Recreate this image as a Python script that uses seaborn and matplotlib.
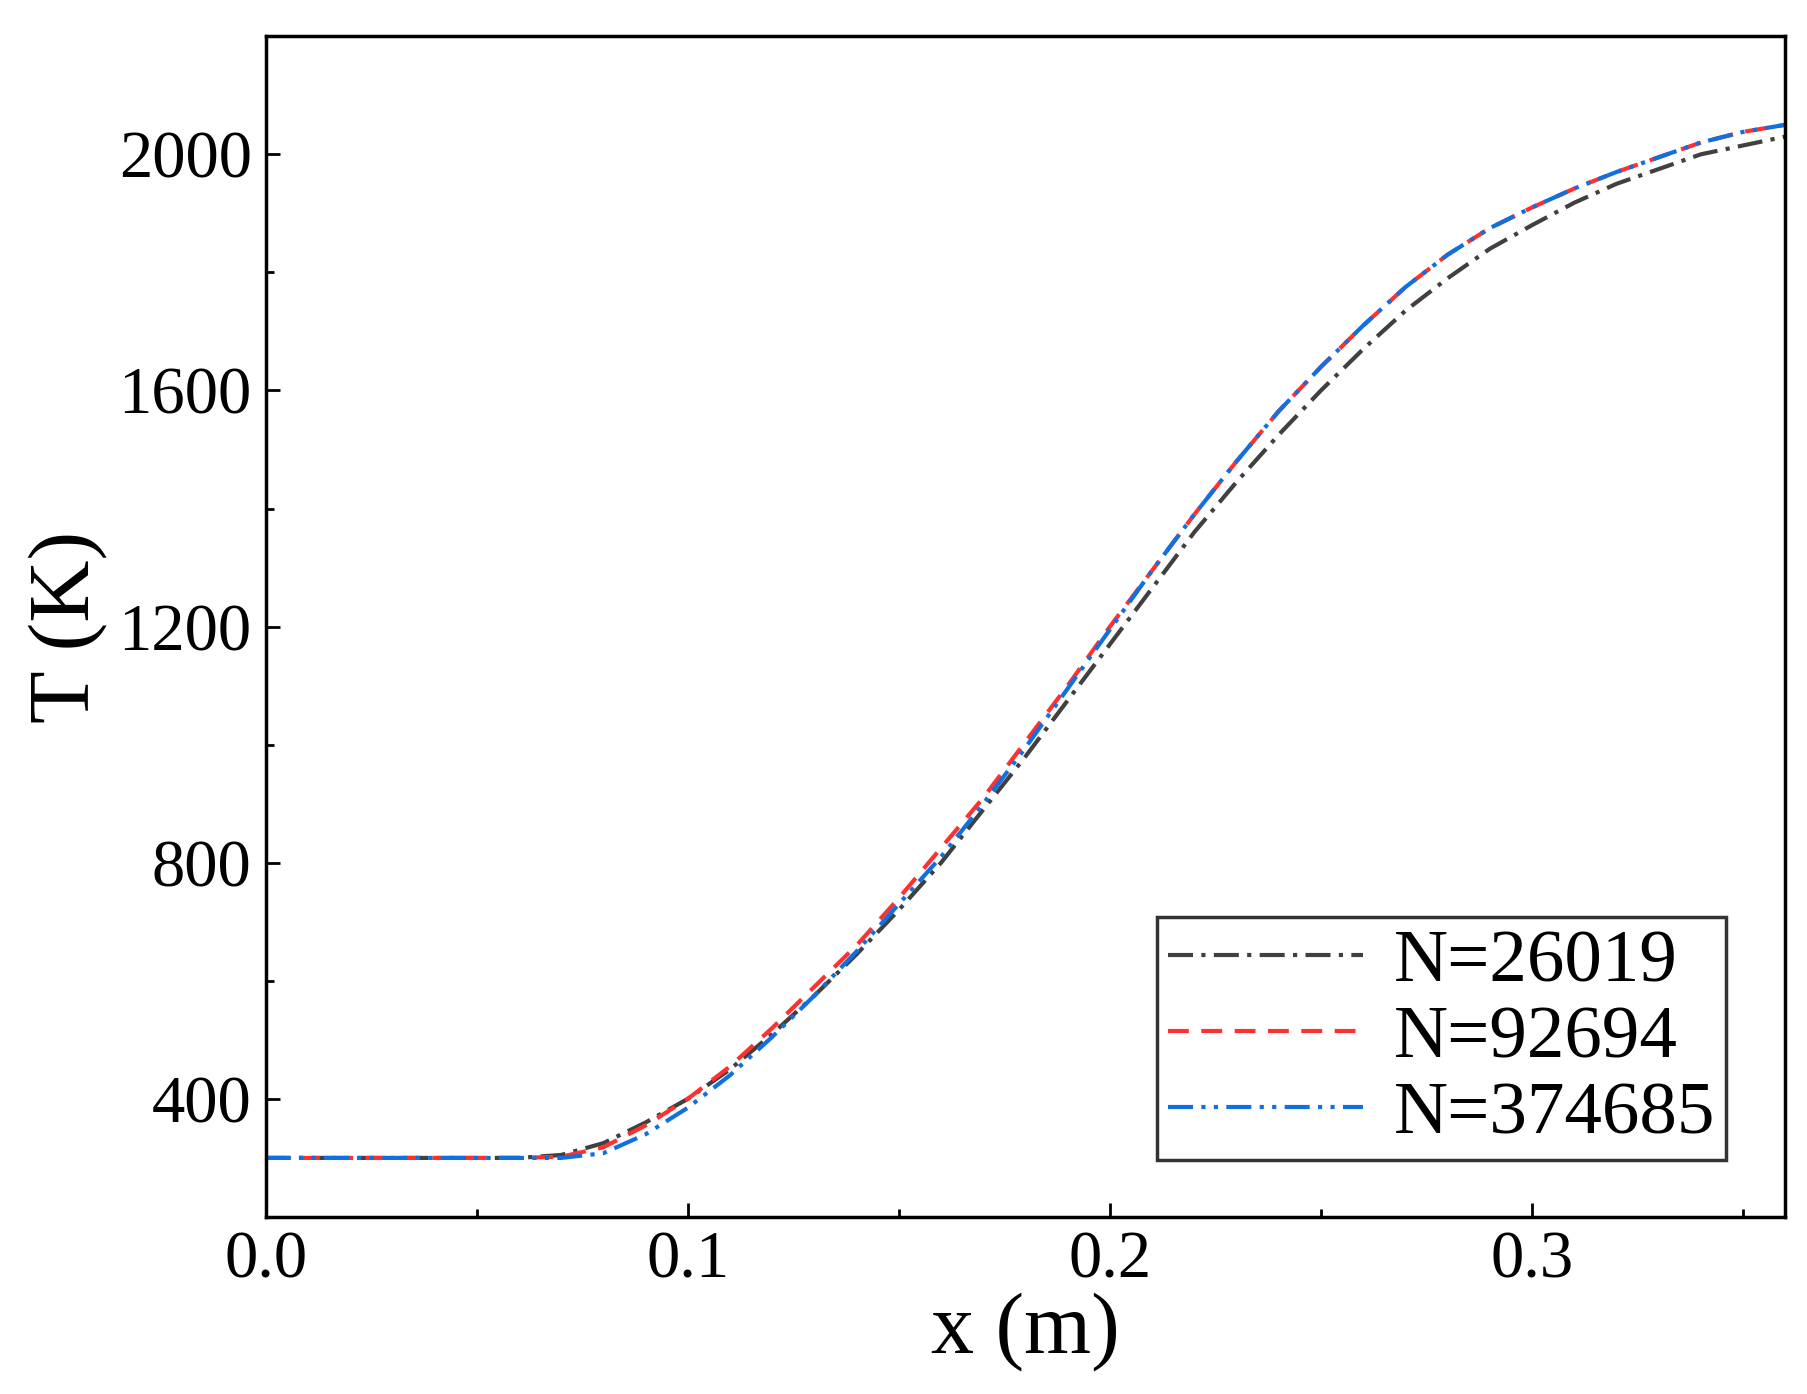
import matplotlib
matplotlib.use("Agg")
import matplotlib.pyplot as plt
import seaborn as sns
import pandas as pd
from matplotlib.ticker import MultipleLocator

x_black = [0.0, 0.03, 0.06, 0.07, 0.08, 0.09, 0.1, 0.11, 0.12, 0.13, 0.14, 0.15, 0.16, 0.17, 0.18, 0.19, 0.2, 0.21, 0.22, 0.23, 0.24, 0.25, 0.26, 0.27, 0.28, 0.29, 0.3, 0.31, 0.32, 0.33, 0.34, 0.35, 0.36]
t_black = [300, 300, 300, 305, 325, 360, 400, 450, 510, 575, 645, 720, 800, 890, 980, 1075, 1170, 1265, 1360, 1445, 1525, 1600, 1670, 1735, 1790, 1840, 1880, 1918, 1950, 1975, 2000, 2015, 2030]
x_red = [0.0, 0.03, 0.06, 0.07, 0.08, 0.09, 0.1, 0.11, 0.12, 0.13, 0.14, 0.15, 0.16, 0.17, 0.18, 0.19, 0.2, 0.21, 0.22, 0.23, 0.24, 0.25, 0.26, 0.27, 0.28, 0.29, 0.3, 0.31, 0.32, 0.33, 0.34, 0.35, 0.36]
t_red = [300, 300, 300, 302, 318, 355, 400, 455, 520, 590, 660, 740, 825, 910, 1005, 1100, 1200, 1295, 1390, 1480, 1565, 1640, 1710, 1775, 1830, 1875, 1910, 1942, 1970, 1995, 2020, 2038, 2050]
x_blue = x_red
t_blue = [300, 300, 300, 300, 308, 340, 385, 440, 505, 575, 650, 730, 810, 900, 995, 1095, 1195, 1295, 1390, 1480, 1565, 1640, 1710, 1775, 1830, 1875, 1910, 1942, 1970, 1995, 2020, 2038, 2050]
labels = ["N=26019", "N=92694", "N=374685"]

df = pd.concat([
    pd.DataFrame({"x": x_black, "T": t_black, "case": labels[0]}),
    pd.DataFrame({"x": x_red, "T": t_red, "case": labels[1]}),
    pd.DataFrame({"x": x_blue, "T": t_blue, "case": labels[2]}),
])

plt.rcParams["font.family"] = "Liberation Serif"
fig = plt.figure(figsize=(18.07, 13.94), dpi=100)
ax = fig.add_axes([0.147, 0.127, 0.841, 0.847])
colors = ["#404040", "#ff3030", "#1070e0"]
styles = [(0, (6, 2, 1, 2)), (0, (5, 3)), (0, (6, 2, 1, 2, 1, 2))]
for lab, c, ls in zip(labels, colors, styles):
    sub = df[df.case == lab]
    sns.lineplot(data=sub, x="x", y="T", ax=ax, color=c, lw=3, label=lab, sort=False)
    ax.lines[-1].set_linestyle(ls)

ax.set_xlim(0, 0.36)
ax.set_ylim(200, 2200)
ax.xaxis.set_minor_locator(MultipleLocator(0.05))
ax.yaxis.set_minor_locator(MultipleLocator(200))
ax.set_xticks([0, 0.1, 0.2, 0.3])
ax.set_xticklabels(["0.0", "0.1", "0.2", "0.3"])
ax.set_yticks([400, 800, 1200, 1600, 2000])
ax.tick_params(which="major", direction="in", length=10, width=2, labelsize=48, pad=10)
ax.tick_params(which="minor", direction="in", length=6, width=2)
for s in ax.spines.values():
    s.set_linewidth(2.5)
ax.set_xlabel("x (m)", fontsize=62, labelpad=0)
ax.set_ylabel("T (K)", fontsize=62, labelpad=8)
leg = ax.legend(loc="lower right", bbox_to_anchor=(0.961, 0.048), fontsize=54, frameon=True,
                fancybox=False, edgecolor="black", handlelength=2.6, borderpad=0.15,
                labelspacing=0.1, handletextpad=0.4, borderaxespad=0)
leg.get_frame().set_linewidth(2.5)
fig.savefig("out.png", dpi=100)
